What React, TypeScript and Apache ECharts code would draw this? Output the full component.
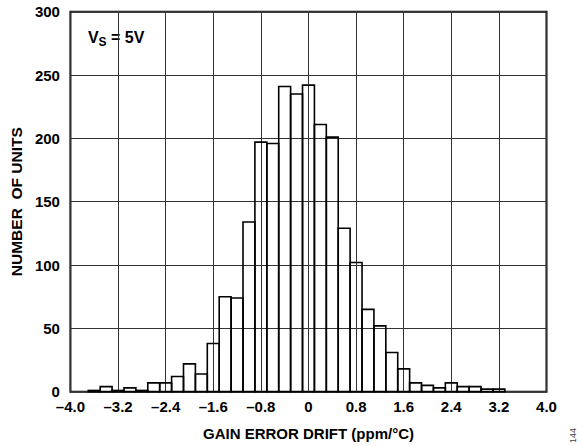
import React, { useEffect, useRef } from "react";
import * as echarts from "echarts";

const binCenters = [-3.6, -3.4, -3.2, -3.0, -2.8, -2.6, -2.4, -2.2, -2.0, -1.8, -1.6, -1.4, -1.2, -1.0, -0.8, -0.6, -0.4, -0.2, 0, 0.2, 0.4, 0.6, 0.8, 1.0, 1.2, 1.4, 1.6, 1.8, 2.0, 2.2, 2.4, 2.6, 2.8, 3.0, 3.2];
const counts = [1, 4, 1, 3, 1, 7, 7, 12, 22, 14, 38, 75, 74, 134, 197, 196, 241, 235, 242, 211, 201, 129, 102, 65, 52, 31, 18, 7, 5, 3, 7, 4, 4, 2, 2];
const binWidth = 0.2;
const xTitle = "GAIN ERROR DRIFT (ppm/°C)";
const yTitle = "NUMBER  OF UNITS";

const FONT = "Liberation Sans, Arial, sans-serif";

export default function App() {
  const ref = useRef<HTMLDivElement>(null);
  useEffect(() => {
    if (!ref.current) return;
    const chart = echarts.init(ref.current, null, { renderer: "svg" });
    const data = binCenters.map((c, i) => [c, counts[i]]);
    chart.setOption({
      animation: false,
      backgroundColor: "#fff",
      grid: { left: 69.5, right: 37.5, top: 11.7, bottom: 54.3, show: true, borderColor: "#000", borderWidth: 2, backgroundColor: "transparent" },
      xAxis: {
        type: "value", min: -4, max: 4, interval: 0.8,
        axisLine: { show: false }, axisTick: { show: false },
        splitLine: { show: true, lineStyle: { color: "#333", width: 1 } },
        axisLabel: {
          color: "#000", fontFamily: FONT, fontWeight: "bold", fontSize: 15, margin: 7,
          formatter: (v: number) => { const s = Math.abs(v) < 1e-9 ? "0" : Math.abs(v).toFixed(1); return v < -1e-9 ? "\u2013" + s : s; },
        },
        name: xTitle, nameLocation: "middle", nameGap: 34,
        nameTextStyle: { color: "#000", fontFamily: FONT, fontWeight: "bold", fontSize: 15 },
      },
      yAxis: {
        type: "value", min: 0, max: 300, interval: 50,
        axisLine: { show: false }, axisTick: { show: false },
        splitLine: { show: true, lineStyle: { color: "#333", width: 1 } },
        axisLabel: { color: "#000", fontFamily: FONT, fontWeight: "bold", fontSize: 15, margin: 10.5 },
        name: yTitle, nameLocation: "middle", nameGap: 42, nameRotate: 90,
        nameTextStyle: { color: "#000", fontFamily: FONT, fontWeight: "bold", fontSize: 15.5 },
      },
      series: [{
        type: "custom",
        data,
        renderItem: (params: any, api: any) => {
          const x = api.value(0), y = api.value(1);
          const p1 = api.coord([x - binWidth / 2, y]);
          const p2 = api.coord([x + binWidth / 2, 0]);
          return {
            type: "rect",
            shape: { x: p1[0], y: p1[1], width: p2[0] - p1[0], height: p2[1] - p1[1] },
            style: { fill: "none", stroke: "#000", lineWidth: 1.6 },
          };
        },
      }],
      graphic: [
        { type: "rect", left: 86, top: 20, shape: { width: 62, height: 34 }, style: { fill: "#fff" } },
        { type: "text", left: 88, top: 29, style: { text: "V", font: `bold 16px ${FONT}`, fill: "#000" } },
        { type: "text", left: 98.5, top: 36, style: { text: "S", font: `bold 12px ${FONT}`, fill: "#000" } },
        { type: "text", left: 111, top: 29, style: { text: "= 5V", font: `bold 16px ${FONT}`, fill: "#000" } },
        { type: "text", left: 568, top: 428, rotation: Math.PI / 2, style: { text: "144", font: `9px ${FONT}`, fill: "#444" } },
      ],
    });
    return () => chart.dispose();
  }, []);
  return <div ref={ref} style={{ position: "fixed", left: 0, top: 0, width: 584, height: 446 }} />;
}
